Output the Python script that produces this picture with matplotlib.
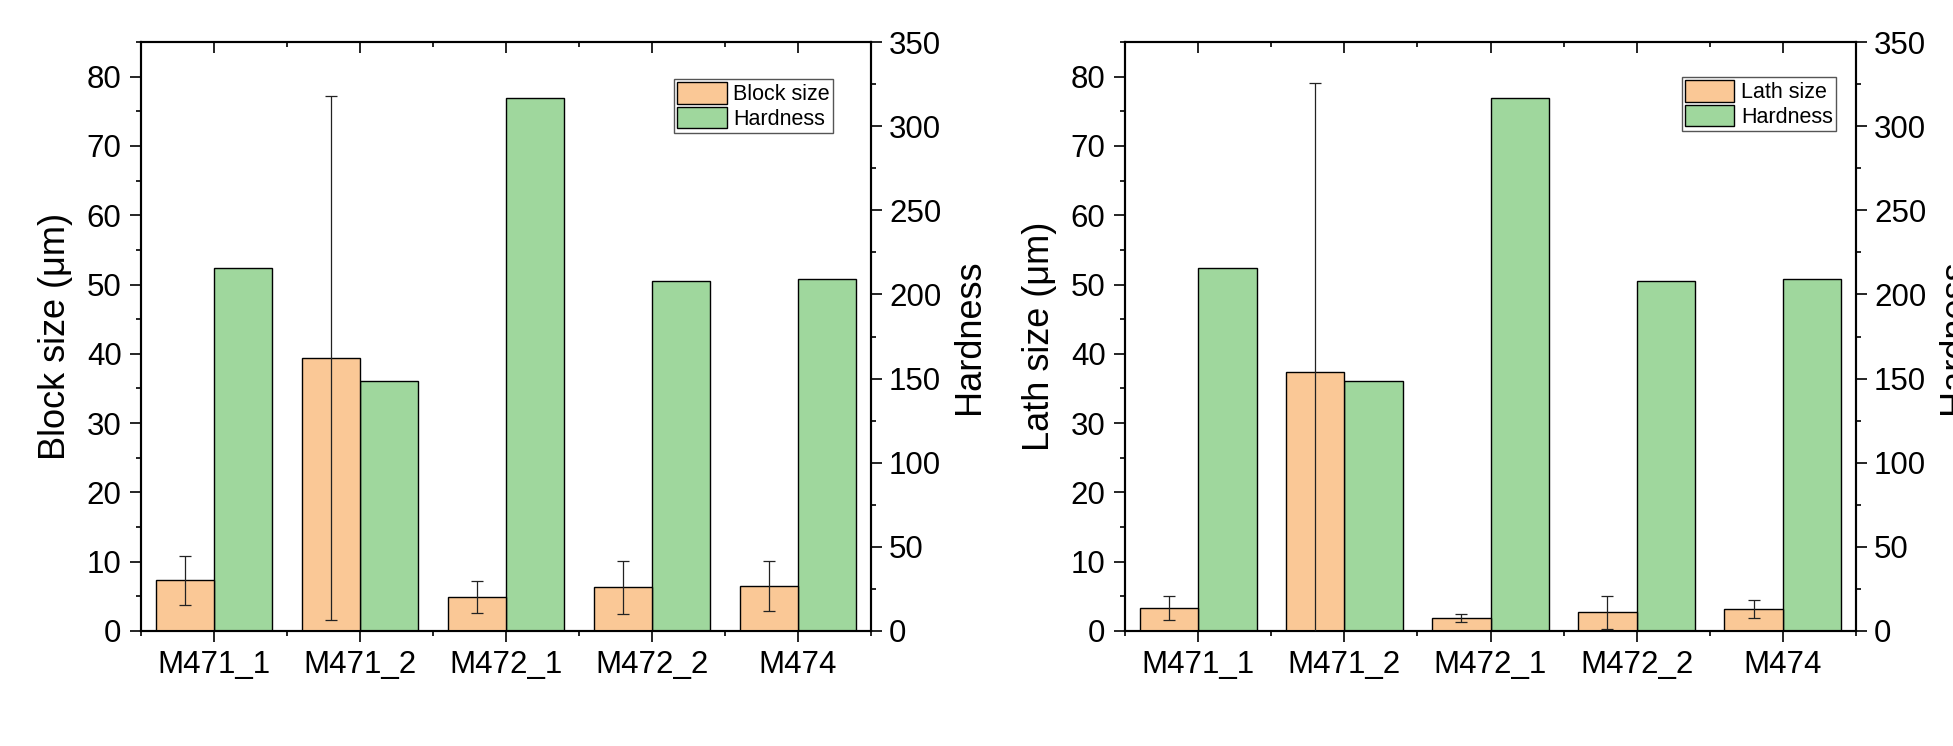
import matplotlib
matplotlib.use("Agg")
import matplotlib.pyplot as plt
from matplotlib.ticker import MultipleLocator, FixedLocator
from matplotlib.patches import Patch
import numpy as np

plt.rcParams['font.family'] = ['Liberation Sans', 'DejaVu Sans']

categories = ["M471_1", "M471_2", "M472_1", "M472_2", "M474"]

block_size = [7.3, 39.4, 4.9, 6.3, 6.5]
block_err = [3.5, 37.8, 2.3, 3.8, 3.65]

lath_size = [3.3, 37.35, 1.85, 2.7, 3.15]
lath_err = [1.7, 41.8, 0.6, 2.4, 1.3]

hardness = [216.0, 148.3, 316.5, 208.0, 209.3]

ORANGE = '#FAC896'
GREEN = '#9FD79D'

fig = plt.figure(figsize=(19.53, 7.46), dpi=100)

panels = [
    dict(rect=[141/1953, 1-631/746, 730/1953, 589/746], size=block_size, err=block_err,
         label="Block size", ylabel="Block size (μm)", leg_anchor=(0.948, 0.937)),
    dict(rect=[1125/1953, 1-631/746, 731/1953, 589/746], size=lath_size, err=lath_err,
         label="Lath size", ylabel="Lath size (μm)", leg_anchor=(0.9726, 0.9406)),
]

x = np.arange(len(categories))
w = 0.4
TICK_FS = 22.5
LABEL_FS = 26

for p in panels:
    ax1 = fig.add_axes(p['rect'])
    ax2 = ax1.twinx()
    ax1.set_zorder(ax2.get_zorder() + 1)
    ax1.patch.set_visible(False)

    ax1.bar(x - w/2, p['size'], width=w, color=ORANGE, edgecolor='black', linewidth=1.0, zorder=2)
    ax1.errorbar(x - w/2, p['size'], yerr=p['err'], fmt='none', ecolor='#222222',
                 elinewidth=0.9, capsize=4.3, capthick=0.9, zorder=3)
    ax2.bar(x + w/2, hardness, width=w, color=GREEN, edgecolor='black', linewidth=1.0, zorder=2)

    ax1.set_xlim(-0.5, 4.5)
    ax1.set_ylim(0, 85)
    ax2.set_ylim(0, 350)

    ax1.set_xticks(x)
    ax1.set_xticklabels(categories)
    ax1.xaxis.set_minor_locator(FixedLocator(np.arange(-0.5, 5.0, 1.0)))
    ax1.yaxis.set_major_locator(MultipleLocator(10))
    ax1.yaxis.set_minor_locator(MultipleLocator(5))
    ax2.yaxis.set_major_locator(MultipleLocator(50))
    ax2.yaxis.set_minor_locator(MultipleLocator(25))

    ax1.tick_params(axis='x', which='major', direction='out', length=8, width=1.2,
                    labelsize=TICK_FS, pad=6, top=False)
    ax1.tick_params(axis='x', which='minor', direction='out', length=3.8, width=1.2, top=False)
    ax1.tick_params(axis='y', which='major', direction='out', length=8, width=1.2,
                    labelsize=TICK_FS, pad=6)
    ax1.tick_params(axis='y', which='minor', direction='out', length=3.8, width=1.2)
    ax2.tick_params(axis='y', which='major', direction='out', length=8, width=1.2,
                    labelsize=TICK_FS, pad=5)
    ax2.tick_params(axis='y', which='minor', direction='out', length=3.8, width=1.2)

    ax2.xaxis.set_visible(True)
    ax2.tick_params(axis='x', which='both', bottom=False, top=True, labelbottom=False,
                    labeltop=False, direction='in', width=1.2)
    ax2.tick_params(axis='x', which='major', length=8)
    ax2.tick_params(axis='x', which='minor', length=3.8)

    for a in (ax1, ax2):
        for s in a.spines.values():
            s.set_linewidth(1.5)

    ax1.set_ylabel(p['ylabel'], fontsize=LABEL_FS, labelpad=10)
    ax2.set_ylabel("Hardness", fontsize=LABEL_FS, labelpad=8)

    handles = [Patch(facecolor=ORANGE, edgecolor='black', linewidth=1.0, label=p['label']),
               Patch(facecolor=GREEN, edgecolor='black', linewidth=1.0, label="Hardness")]
    leg = ax1.legend(handles=handles, loc='upper right', bbox_to_anchor=p['leg_anchor'],
                     bbox_transform=ax1.transAxes, borderaxespad=0, fontsize=15.5,
                     frameon=True, fancybox=False, edgecolor='#555555', framealpha=1,
                     handlelength=2.3, handleheight=1.15, labelspacing=0.08,
                     handletextpad=0.3, borderpad=0.15)
    leg.get_frame().set_linewidth(1.0)

fig.savefig("out.png", dpi=100)
